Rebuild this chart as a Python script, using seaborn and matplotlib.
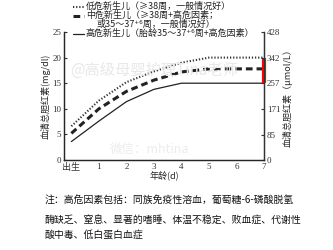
import matplotlib
matplotlib.use('Agg')
import matplotlib.pyplot as plt
from matplotlib.lines import Line2D
import pandas as pd
import seaborn as sns

sns.set_style('white')
plt.rcParams['font.family'] = ['Noto Sans CJK SC', 'DejaVu Sans']

# data (mg/dl by day of life)
days = [0, 1, 2, 3, 4, 5, 6, 7]
low_risk = [6.6, 11.6, 15.2, 17.3, 19.0, 20.0, 20.0, 20.0]
mid_risk = [5.2, 10.0, 13.4, 15.6, 17.2, 17.8, 17.8, 17.8]
high_risk = [3.6, 7.6, 11.4, 13.8, 15.0, 15.0, 15.0, 15.0]

x_labels = ['出生', '1', '2', '3', '4', '5', '6', '7']
left_ticks = [0, 5, 10, 15, 20, 25]
right_ticks = [0, 85, 171, 257, 342, 428]
red_band = [15, 20]

legend_labels = ['低危新生儿（≥38周，一般情况好）',
                 '中危新生儿（≥38周+高危因素；',
                 '或35～37⁺⁶周，一般情况好）',
                 '高危新生儿（胎龄35～37⁺⁶周+高危因素）']
note_lines = ['注：高危因素包括：同族免疫性溶血，葡萄糖-6-磷酸脱氢',
              '酶缺乏、窒息、显著的嗜睡、体温不稳定、败血症、代谢性',
              '酸中毒、低白蛋白血症']

df = pd.DataFrame({'day': days, 'low': low_risk, 'mid': mid_risk, 'high': high_risk})

low_style = dict(color='#333333', lw=1.5, linestyle=(0, (0.6, 0.9)))
mid_style = dict(color='#222222', lw=2.2, linestyle=(0, (2.2, 1.3)))
high_style = dict(color='#222222', lw=0.9)

fig = plt.figure(figsize=(3.33, 2.5), dpi=100)
ax = fig.add_axes([0.192, 0.36, 0.601, 0.512])

sns.lineplot(data=df, x='day', y='low', ax=ax, **low_style)
sns.lineplot(data=df, x='day', y='mid', ax=ax, **mid_style)
sns.lineplot(data=df, x='day', y='high', ax=ax, **high_style)

ax.set_xlim(-0.27, 7)
ax.set_ylim(0, 25)
ax.set_xticks(days)
ax.set_xticklabels(x_labels)
ax.set_yticks(left_ticks)
ax.set_xlabel('年龄(d)', fontsize=6.5, labelpad=-1)
ax.set_ylabel('血清总胆红素(mg/dl)', fontsize=6.5, labelpad=1)
ax.tick_params(direction='in', length=2, width=0.8, labelsize=6.5, pad=2, colors='#333333')
for lab in ax.get_xticklabels() + ax.get_yticklabels():
    lab.set_family(['Liberation Serif', 'Noto Sans CJK SC'])
ax.spines['top'].set_visible(False)
for s in ['left', 'bottom', 'right']:
    ax.spines[s].set_color('#333333')
    ax.spines[s].set_linewidth(1.0)

ax2 = ax.twinx()
ax2.set_ylim(0, 428)
ax2.set_yticks(right_ticks)
ax2.set_ylabel('血清总胆红素（μmol/L）', fontsize=6.5, labelpad=2)
ax2.tick_params(direction='in', length=2, width=0.8, labelsize=6.5, pad=2, colors='#333333')
for lab in ax2.get_yticklabels():
    lab.set_family(['Liberation Serif', 'Noto Sans CJK SC'])
ax2.spines['top'].set_visible(False)
ax2.spines['right'].set_color('#333333')

# red band on the right axis between 257 and 342
ax.plot([days[-1], days[-1]], red_band, color='#ff0000', lw=3, clip_on=False,
        solid_capstyle='butt', zorder=5)

# legend drawn as rows of text at the top
row_y = [1 - 6.5 / 250, 1 - 15.5 / 250, 1 - 24.5 / 250, 1 - 33.5 / 250]
row_x = [0.258, 0.258, 0.29, 0.258]
row_style = [low_style, mid_style, None, high_style]
for lbl, yy, xx, st in zip(legend_labels, row_y, row_x, row_style):
    fig.text(xx, yy, lbl, fontsize=6.5, va='center', color='#222222')
    if st is not None:
        fig.add_artist(Line2D([0.218, 0.252], [yy, yy], transform=fig.transFigure, **st))

# watermarks
fig.text(0.21, 0.70, '@高级母婴护理Tina老师', fontsize=11, color='#e8e8e8', zorder=0)
fig.text(0.33, 0.39, '微信：mhtina', fontsize=9, color='#ececec', zorder=0)

note_y = [0.188, 0.108, 0.048]
for txt, yy in zip(note_lines, note_y):
    fig.text(0.135, yy, txt, fontsize=7.1, color='#111111', weight='medium')

fig.savefig('out.png', dpi=100)
